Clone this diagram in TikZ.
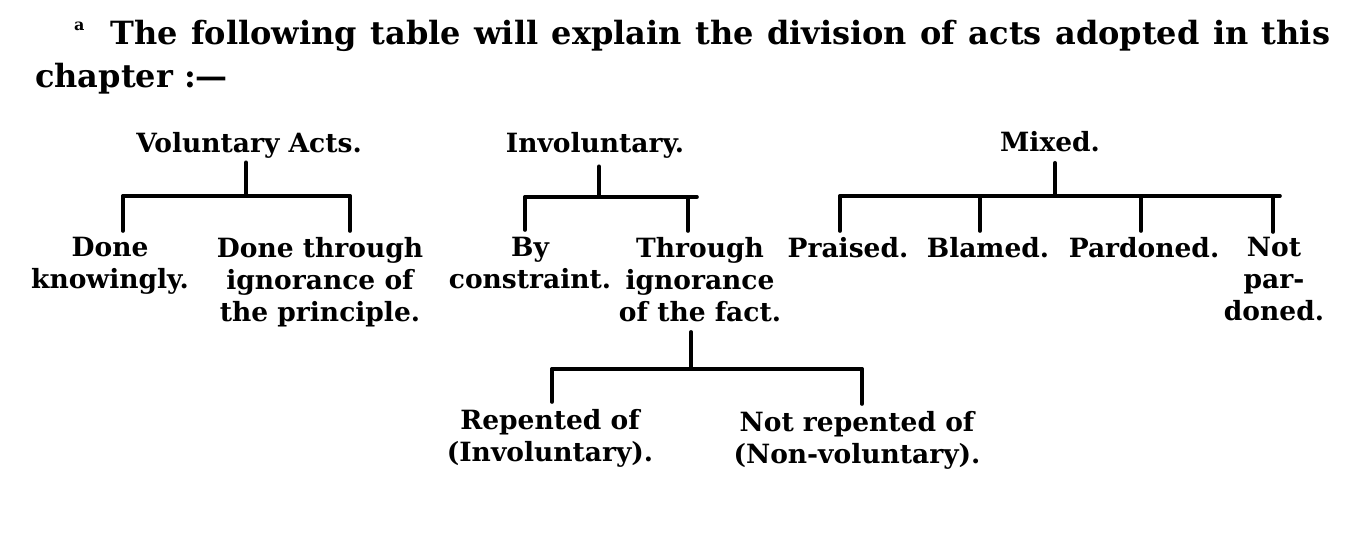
\documentclass[tikz,border=0pt]{standalone}
\usepackage{fontspec}
\newfontfamily\labfont{DejaVu Serif}
\begin{document}
\begin{tikzpicture}[x=1pt,y=-1pt,
  lab/.style={font=\labfont\bfseries\fontsize{26.5}{32}\selectfont, align=center,
    inner sep=0pt, anchor=north, execute at begin node={\rule{0pt}{21pt}}},
  hdr/.style={font=\labfont\bfseries\fontsize{32}{43}\selectfont, inner sep=0pt, anchor=base west},
  ln/.style={line width=3.6pt, line cap=round},
  stem/.style={ln, shorten <=#1},
  tick/.style={ln, shorten >=#1}]
\useasboundingbox (0,0) rectangle (1363,534);

% header
\node[font=\labfont\bfseries\fontsize{16}{16}\selectfont, inner sep=0pt, anchor=base west] (fn) at (74,31) {a};
\node[hdr] (h1) at (110,45) {\makebox[1220pt][s]{The following table will explain the division of acts adopted in this}};
\node[hdr] (h2) at (35,88) {chapter :—};

% level 1
\node[lab] (vol) at (249,131) {Voluntary Acts.};
\node[lab] (inv) at (595,131) {Involuntary.};
\node[lab] (mix) at (1050,130) {Mixed.};

% level 2
\node[lab] (dk)  at (110,237) {Done\\knowingly.};
\node[lab] (dtp) at (320,237) {Done through\\ignorance of\\the principle.};
\node[lab] (bc)  at (530,237) {By\\constraint.};
\node[lab] (tif) at (700,237) {Through\\ignorance\\of the fact.};
\node[lab] (pr)  at (848,236) {Praised.};
\node[lab] (bl)  at (988,236) {Blamed.};
\node[lab] (pd)  at (1144,236) {Pardoned.};
\node[lab] (np)  at (1274,237) {Not\\par-\\doned.};

% level 3
\node[lab] (rep)  at (550,409) {Repented of\\(Involuntary).};
\node[lab] (nrep) at (857,411) {Not repented of\\(Non-voluntary).};

% Voluntary bracket
\coordinate (v0) at (246,196);
\coordinate (vL) at (123,196);
\coordinate (vR) at (350,196);
\draw[stem=4pt] (vol.south -| v0) -- (v0);
\draw[ln] (vL) -- (vR);
\draw[tick=6pt] (vL) -- (vL |- dk.north);
\draw[tick=6pt] (vR) -- (vR |- dtp.north);

% Involuntary bracket
\coordinate (i0) at (599,197);
\coordinate (iL) at (525,197);
\coordinate (iR) at (697,197);
\coordinate (iT) at (688,197);
\draw[stem=8pt] (inv.south -| i0) -- (i0);
\draw[ln] (iL) -- (iR);
\draw[tick=7pt] (iL) -- (iL |- bc.north);
\draw[tick=6pt] (iT) -- (iT |- tif.north);

% Mixed bracket
\coordinate (m0) at (1055,196);
\coordinate (mL) at (840,196);
\coordinate (mR) at (1280,196);
\coordinate (m2) at (980,196);
\coordinate (m3) at (1141,196);
\coordinate (m4) at (1273,196);
\draw[stem=11pt] (mix.south -| m0) -- (m0);
\draw[ln] (mL) -- (mR);
\draw[tick=5pt] (mL) -- (mL |- pr.north);
\draw[tick=5pt] (m2) -- (m2 |- bl.north);
\draw[tick=5pt] (m3) -- (m3 |- pd.north);
\draw[tick=5pt] (m4) -- (m4 |- np.north);

% Through ignorance bracket
\coordinate (t0) at (691,369);
\coordinate (tL) at (552,369);
\coordinate (tR) at (862,369);
\draw[stem=10pt] (tif.south -| t0) -- (t0);
\draw[ln] (tL) -- (tR);
\draw[tick=7pt] (tL) -- (tL |- rep.north);
\draw[tick=7pt] (tR) -- (tR |- nrep.north);
\end{tikzpicture}
\end{document}
